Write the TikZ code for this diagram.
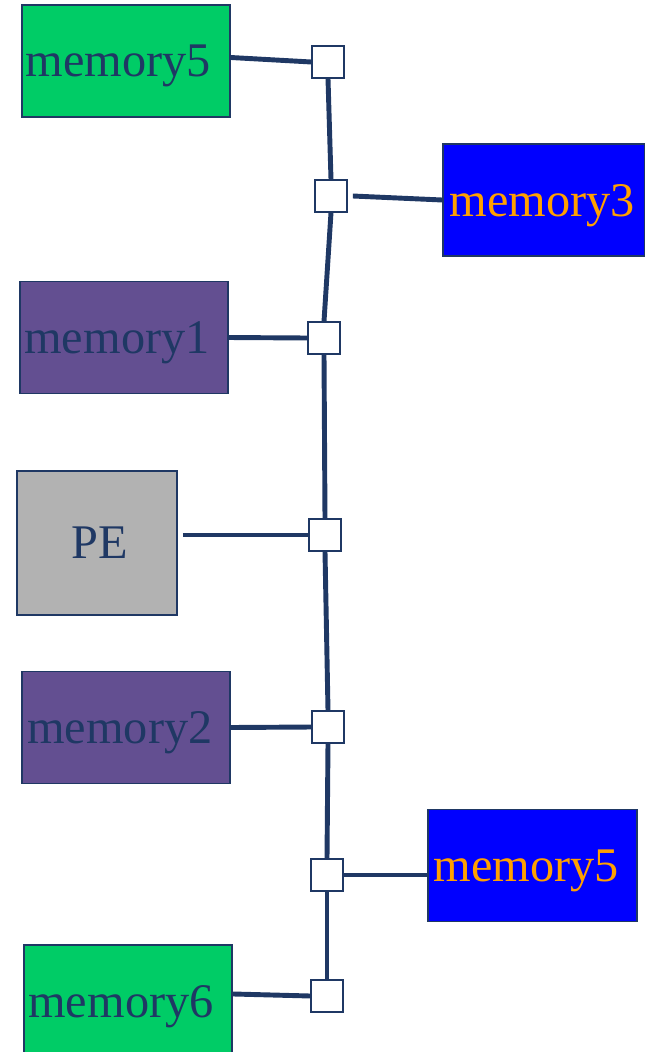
\documentclass[tikz,border=0pt]{standalone}
\usepackage{fontspec}
\setmainfont{Liberation Serif}
\usepackage{xcolor}
\usetikzlibrary{positioning}

\definecolor{navy}{RGB}{31,56,100}
\definecolor{memgreen}{RGB}{0,204,102}
\definecolor{memblue}{RGB}{0,0,255}
\definecolor{mempurple}{RGB}{99,79,145}
\definecolor{pegray}{RGB}{178,178,178}
\definecolor{memorange}{RGB}{255,160,0}

\begin{document}
\begin{tikzpicture}[x=0.02cm, y=-0.02cm,
    mem/.style={draw=navy, line width=0.8pt, rectangle, minimum width=4.16cm, minimum height=2.24cm, inner sep=0pt, text depth=0pt, font=\fontsize{27.5}{30}\selectfont, text=navy},
    far/.style={mem, fill=memblue, text=memorange},
    sw/.style={draw=navy, fill=white, line width=0.7pt, rectangle, minimum size=0.64cm, inner sep=0pt},
    bus/.style={draw=navy, line width=2.8pt}
]
    \useasboundingbox (0,0) rectangle (645,1052);

    % Memories and PE
    \node [mem, fill=memgreen] (mfive) at (126,61) {\hspace{-9pt}memory5};
    \node [far, minimum width=4.04cm] (mthree) at (544,200) {\hspace{-2pt}memory3};
    \node [mem, fill=mempurple] (mone) at (124,337.5) {\hspace{-8pt}memory1};
    \node [mem, fill=pegray, minimum width=3.2cm, minimum height=2.88cm] (pe) at (97,543) {\hspace{3pt}PE};
    \node [mem, fill=mempurple] (mtwo) at (126,727.5) {\hspace{-7pt}memory2};
    \node [far, minimum width=4.18cm] (mfiveb) at (532.5,865.5) {\hspace{-7pt}memory5};
    \node [mem, fill=memgreen] (msix) at (128,1001) {\hspace{-8pt}memory6};

    % Switches
    \foreach \name/\x/\y in {sa/328/62, sb/331/196, sc/324/338, sd/325/535, se/328/727, sf/327/875, sg/327/996} {
        \node [sw] (\name) at (\x,\y) {};
    }

    % Bus
    \foreach \a/\b in {sa/sb, sb/sc, sc/sd, sd/se, se/sf, sf/sg} {
        \draw [bus] (\a.south) -- (\b.north);
    }

    % Links to the bus
    \draw [bus] ([yshift=2pt]mfive.east) -- (sa.west);
    \draw [bus] (mthree.west) -- ([xshift=3pt]sb.east);
    \draw [bus] (mone.east) -- (sc.west);
    \draw [bus] ([xshift=3pt]pe.east |- sd.west) -- (sd.west);
    \draw [bus] (mtwo.east) -- (se.west);
    \draw [bus] (mfiveb.west |- sf.east) -- (sf.east);
    \draw [bus] ([yshift=4pt]msix.east) -- (sg.west);
\end{tikzpicture}
\end{document}
